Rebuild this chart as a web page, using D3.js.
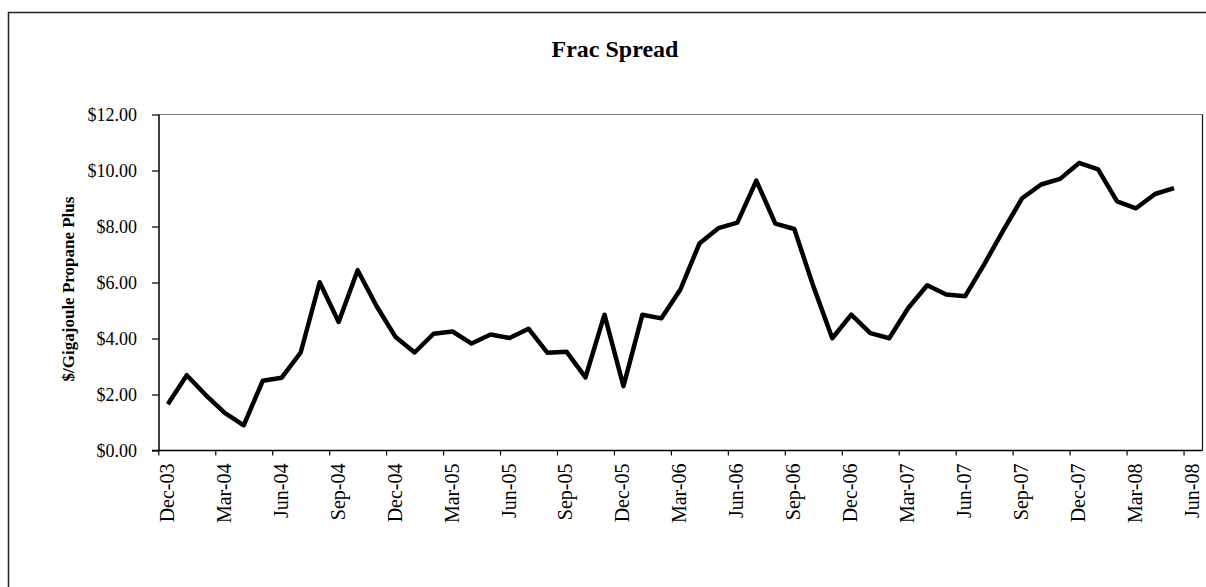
<!DOCTYPE html>
<html>
<head>
<meta charset="utf-8">
<script src="https://cdn.jsdelivr.net/npm/d3@7"></script>
<style>
  html, body { margin: 0; padding: 0; background: #fff; }
  svg { display: block; }
</style>
</head>
<body>
<svg id="chart" width="1206" height="587"></svg>
<script>
const months = ["Dec-03","Jan-04","Feb-04","Mar-04","Apr-04","May-04","Jun-04","Jul-04","Aug-04","Sep-04","Oct-04","Nov-04",
  "Dec-04","Jan-05","Feb-05","Mar-05","Apr-05","May-05","Jun-05","Jul-05","Aug-05","Sep-05","Oct-05","Nov-05",
  "Dec-05","Jan-06","Feb-06","Mar-06","Apr-06","May-06","Jun-06","Jul-06","Aug-06","Sep-06","Oct-06","Nov-06",
  "Dec-06","Jan-07","Feb-07","Mar-07","Apr-07","May-07","Jun-07","Jul-07","Aug-07","Sep-07","Oct-07","Nov-07",
  "Dec-07","Jan-08","Feb-08","Mar-08","Apr-08","May-08"];
const fracSpread = [1.65,2.69,1.98,1.34,0.90,2.49,2.60,3.50,6.01,4.59,6.44,5.15,
  4.05,3.50,4.17,4.25,3.82,4.14,4.02,4.35,3.49,3.53,2.61,4.85,
  2.30,4.85,4.72,5.75,7.39,7.94,8.14,9.64,8.10,7.91,5.87,4.01,
  4.85,4.19,4.01,5.09,5.90,5.57,5.51,6.65,7.85,9.01,9.50,9.70,
  10.27,10.04,8.90,8.65,9.16,9.37];
const xTickLabels = ["Dec-03","Mar-04","Jun-04","Sep-04","Dec-04","Mar-05","Jun-05","Sep-05","Dec-05","Mar-06",
  "Jun-06","Sep-06","Dec-06","Mar-07","Jun-07","Sep-07","Dec-07","Mar-08","Jun-08"];
const yTicks = [0,2,4,6,8,10,12];
const chartTitle = "Frac Spread";
const yTitle = "$/Gigajoule Propane Plus";

(function () {
const svg = d3.select("#chart");
const pL = 159, pR = 1202.5, pT = 114.5, pB = 450.5;

// outer chart border
svg.append("rect").attr("x", 8.5).attr("y", 12.5).attr("width", 1230).attr("height", 600)
  .attr("fill", "#fff").attr("stroke", "#222").attr("stroke-width", 1.5);

// x scale: month index (0 = Dec-03 start), 55 months across the plot
const x = d3.scaleLinear().domain([0, 55]).range([pL - 0.7, pR]);
const y = d3.scaleLinear().domain([0, 12]).range([pB, pT]);

// plot area frame (top + right)
svg.append("line").attr("x1", pL).attr("x2", pR).attr("y1", pT).attr("y2", pT)
  .attr("stroke", "#777").attr("stroke-width", 1.2);
svg.append("line").attr("x1", pR).attr("x2", pR).attr("y1", pT).attr("y2", pB)
  .attr("stroke", "#111").attr("stroke-width", 1.2);

// y axis
const yAxis = d3.axisLeft(y).tickValues(yTicks).tickSize(7).tickPadding(15)
  .tickFormat(d => "$" + d.toFixed(2));
const gy = svg.append("g").attr("transform", `translate(${pL},0)`).call(yAxis);
gy.select(".domain").attr("stroke", "#000").attr("stroke-width", 1.5).attr("d", `M0,${pT}V${pB}`);
gy.selectAll(".tick line").attr("stroke", "#000").attr("stroke-width", 1.2);
gy.selectAll(".tick text").attr("font-family", "'Liberation Serif', 'Times New Roman', serif")
  .attr("font-size", 18).attr("fill", "#000").attr("dy", "0.33em");

// x axis
const tickIdx = xTickLabels.map((l, i) => i * 3);
const xAxis = d3.axisBottom(x).tickValues(tickIdx).tickSize(5).tickFormat((d, i) => xTickLabels[i]);
const gx = svg.append("g").attr("transform", `translate(0,${pB})`).call(xAxis);
gx.select(".domain").attr("stroke", "#000").attr("stroke-width", 1.5).attr("d", `M${pL - 7},0H${pR}`);
gx.selectAll(".tick line").attr("stroke", "#000").attr("stroke-width", 1.2);
gx.selectAll(".tick text")
  .attr("font-family", "'Liberation Serif', 'Times New Roman', serif")
  .attr("font-size", 20).attr("fill", "#000")
  .attr("text-anchor", "end").attr("dy", null).attr("y", null)
  .attr("transform", "translate(15,13) rotate(-90)");

// line
const line = d3.line().x((d, i) => x(i + 0.5)).y(d => y(d));
svg.append("path").datum(fracSpread).attr("d", line)
  .attr("fill", "none").attr("stroke", "#000").attr("stroke-width", 4.5)
  .attr("stroke-linejoin", "round").attr("stroke-linecap", "butt");

// title
svg.append("text").attr("x", 615).attr("y", 57).attr("text-anchor", "middle")
  .attr("font-family", "'Liberation Serif', 'Times New Roman', serif")
  .attr("font-weight", "bold").attr("font-size", 24).text(chartTitle);

// y title
svg.append("text").attr("transform", `translate(74,289) rotate(-90)`).attr("text-anchor", "middle")
  .attr("font-family", "'Liberation Serif', 'Times New Roman', serif")
  .attr("font-weight", "bold").attr("font-size", 17).text(yTitle);
})();
</script>
</body>
</html>
